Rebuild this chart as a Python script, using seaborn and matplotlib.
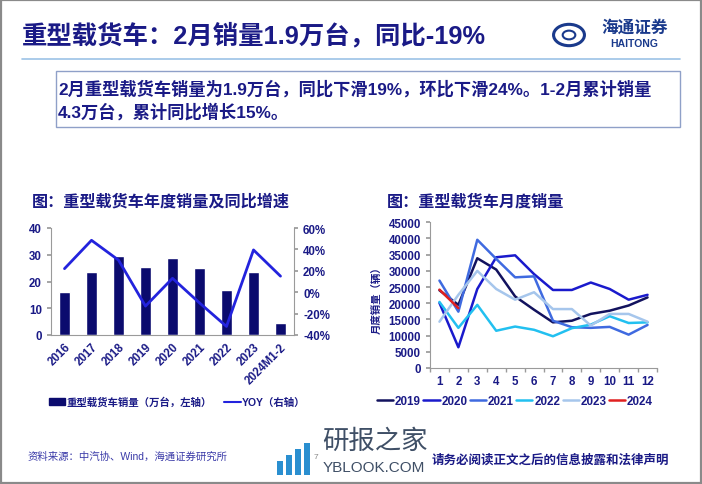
import numpy as np
import pandas as pd
import matplotlib
matplotlib.use("Agg")
import matplotlib.pyplot as plt
from matplotlib.patches import Rectangle, Patch, Circle
from matplotlib.lines import Line2D
import seaborn as sns

# ---------------- data ----------------
years = ["2016", "2017", "2018", "2019", "2020", "2021", "2022", "2023", "2024M1-2"]
annual_sales = [15.9, 23.4, 29.6, 25.3, 28.7, 24.9, 16.8, 23.4, 4.4]      # 万台
annual_yoy = [22, 48.5, 30, -13, 13, -10, -32, 39.5, 15]                   # %

months = list(range(1, 13))
m2019 = [24000, 19500, 33900, 30400, 22100, 18000, 14100, 14600, 16700, 17700, 19300, 21800]
m2020 = [20100, 6400, 24400, 34200, 34800, 29000, 24100, 24100, 26400, 24400, 21100, 22600]
m2021 = [27000, 17400, 39600, 33700, 28000, 28300, 14600, 12600, 12400, 12700, 10300, 13300]
m2022 = [20400, 12400, 19500, 11500, 12800, 11800, 9800, 12300, 13400, 16000, 13900, 14100]
m2023 = [14300, 22600, 30000, 24400, 21100, 23400, 18200, 18200, 13100, 16700, 16700, 14300]
m2024 = [24200, 18500]
series_names = ["2019", "2020", "2021", "2022", "2023", "2024"]

# ---------------- style ----------------
sns.set_theme(style="white")
plt.rcParams['font.family'] = ['Liberation Sans', 'Noto Sans CJK SC', 'DejaVu Sans']
plt.rcParams['axes.unicode_minus'] = False

NAVY = '#1a1a86'
GRAY = '#9a9a9a'
BAR = '#0b0b6e'
YOY = '#2323dd'
pal = {"2019": '#12125e', "2020": '#1a1acc', "2021": '#3f6ae0',
       "2022": '#22c0f0', "2023": '#a6c6ec', "2024": '#e02020'}

W, H = 702, 485
fig = plt.figure(figsize=(W / 100, H / 100), dpi=100)
fig.patch.set_facecolor('white')

def fx(px):
    return px / W

def fy(py):
    return 1 - py / H

# page border
fig.add_artist(Rectangle((0.001, 0.002), 0.997, 0.995, transform=fig.transFigure,
                         fill=False, edgecolor='#8a8a8a', linewidth=1.6))

# title
fig.text(fx(22), fy(35), "重型载货车：2月销量1.9万台，同比-19%", fontsize=18.3,
         fontweight='bold', color=NAVY, va='center', ha='left')
# line under title
fig.add_artist(Line2D([fx(22), fx(680)], [fy(60), fy(60)], transform=fig.transFigure,
                      color='#9cc2e6', linewidth=1.2))

# logo
fig.add_artist(Circle((fx(569), fy(36)), 0.022, transform=fig.transFigure, fill=False,
                      edgecolor='#1a3a8c', linewidth=2.2))
fig.add_artist(Circle((fx(569), fy(36)), 0.009, transform=fig.transFigure, fill=False,
                      edgecolor='#1a3a8c', linewidth=1.5))
fig.text(fx(635), fy(28), "海通证券", fontsize=12, color='#1a3a8c', ha='center',
         va='center', style='italic', fontweight='bold')
fig.text(fx(634), fy(44), "HAITONG", fontsize=7.5, color='#1a3a8c', ha='center',
         va='center', fontweight='bold')

# text box
fig.add_artist(Rectangle((fx(56), fy(128)), fx(680) - fx(56), fy(72) - fy(128),
                         transform=fig.transFigure, fill=False, edgecolor='#8fa0c8',
                         linewidth=1.0))
fig.text(fx(58), fy(89), "2月重型载货车销量为1.9万台，同比下滑19%，环比下滑24%。1-2月累计销量",
         fontsize=12.4, fontweight='bold', color=NAVY, va='center', ha='left')
fig.text(fx(58), fy(112), "4.3万台，累计同比增长15%。",
         fontsize=12.4, fontweight='bold', color=NAVY, va='center', ha='left')

# ---------------- left chart ----------------
fig.text(fx(32), fy(202), "图：重型载货车年度销量及同比增速", fontsize=11.6,
         color=NAVY, va='center', ha='left', fontweight='bold')

ax = fig.add_axes([fx(51), fy(336), fx(294) - fx(51), fy(229) - fy(336)])
sns.barplot(x=years, y=annual_sales, color=BAR, width=0.42, ax=ax, saturation=1)
ax.set_ylim(0, 40)
ax.set_yticks([0, 10, 20, 30, 40])
ax.set_xlim(-0.5, len(years) - 0.5)
ax.set_xticks(range(len(years)))
ax.set_xticklabels(years, rotation=45, ha='right', rotation_mode='anchor')
ax.set_xticks(np.arange(-0.5, len(years), 1.0), minor=True)
ax.tick_params(axis='x', which='major', length=0, pad=4, labelsize=8.3, labelcolor=NAVY)
ax.tick_params(axis='x', which='minor', length=3, color=GRAY, direction='out')
ax.tick_params(axis='y', length=3, color=GRAY, labelsize=8.3, labelcolor=NAVY, left=True)
for lab in ax.get_xticklabels() + ax.get_yticklabels():
    lab.set_fontweight('bold')
for s in ['top', 'right']:
    ax.spines[s].set_visible(False)
for s in ['left', 'bottom']:
    ax.spines[s].set_color(GRAY)
    ax.spines[s].set_linewidth(0.8)
ax.set_xlabel("")
ax.set_ylabel("")
ax.grid(False)

ax2 = ax.twinx()
sns.lineplot(x=np.arange(len(years)), y=annual_yoy, color=YOY, linewidth=2.0, ax=ax2)
ax2.set_ylim(-40, 60)
ax2.set_yticks([-40, -20, 0, 20, 40, 60])
ax2.set_yticklabels([f"{v}%" for v in [-40, -20, 0, 20, 40, 60]])
ax2.tick_params(axis='y', length=3, color=GRAY, labelsize=8.3, labelcolor=NAVY, right=True)
for lab in ax2.get_yticklabels():
    lab.set_fontweight('bold')
for s in ['top', 'left', 'bottom']:
    ax2.spines[s].set_visible(False)
ax2.spines['right'].set_color(GRAY)
ax2.spines['right'].set_linewidth(0.8)
ax2.set_ylabel("")
ax2.grid(False)

h1 = [Patch(facecolor=BAR, edgecolor=BAR), Line2D([0], [0], color=YOY, linewidth=1.5)]
fig.legend(h1, ["重型载货车销量（万台，左轴）", "YOY（右轴）"], loc='center',
           bbox_to_anchor=(fx(177), fy(403)), ncol=2, frameon=False,
           prop={'size': 7.5, 'weight': 'bold'}, labelcolor=NAVY,
           handlelength=1.6, handleheight=0.6, handletextpad=0.1, columnspacing=1.2)

# ---------------- right chart ----------------
fig.text(fx(387), fy(202), "图：重型载货车月度销量", fontsize=11.6, color=NAVY,
         va='center', ha='left', fontweight='bold')

rows = []
for name, vals in zip(series_names, [m2019, m2020, m2021, m2022, m2023, m2024]):
    for m, v in zip(months, vals):
        rows.append({"month": m, "sales": v, "year": name})
df = pd.DataFrame(rows)

bx = fig.add_axes([fx(430), fy(369), fx(657) - fx(430), fy(223.3) - fy(369)])
sns.lineplot(data=df, x="month", y="sales", hue="year", palette=pal,
             hue_order=series_names, linewidth=1.8, ax=bx, legend=False)
bx.set_ylim(0, 45000)
bx.set_yticks(range(0, 45001, 5000))
bx.set_xlim(0.5, 12.5)
bx.set_xticks(months)
bx.set_xticks(np.arange(0.5, 12.6, 1.0), minor=True)
bx.tick_params(axis='x', which='major', length=0, pad=5, labelsize=8.3, labelcolor=NAVY)
bx.tick_params(axis='x', which='minor', length=3, color=GRAY, direction='out', bottom=True)
bx.tick_params(axis='y', length=3, color=GRAY, labelsize=8.3, labelcolor=NAVY, left=True)
for lab in bx.get_xticklabels() + bx.get_yticklabels():
    lab.set_fontweight('bold')
for s in ['top', 'right']:
    bx.spines[s].set_visible(False)
for s in ['left', 'bottom']:
    bx.spines[s].set_color(GRAY)
    bx.spines[s].set_linewidth(0.8)
bx.set_xlabel("")
bx.set_ylabel("")
bx.grid(False)

fig.text(fx(377), fy(298), "月度销量（辆）", rotation=90, fontsize=7.5, color=NAVY,
         fontweight='bold', va='center', ha='center')

h2 = [Line2D([0], [0], color=pal[n], linewidth=1.8) for n in series_names]
fig.legend(h2, series_names, loc='center', bbox_to_anchor=(fx(515), fy(402)),
           ncol=6, frameon=False, prop={'size': 8.4, 'weight': 'bold'},
           labelcolor=NAVY, handlelength=1.4, handletextpad=0.15, columnspacing=0.2)

# ---------------- footer ----------------
fig.text(fx(28), fy(457), "资料来源：中汽协、Wind，海通证券研究所", fontsize=7.5,
         color='#3a3aa8', va='center', ha='left')
fig.text(fx(316), fy(458), "7", fontsize=6, color='#888888', va='center', ha='center')
fig.text(fx(322), fy(442), "研报之家", fontsize=19, color='#3f4f66', va='center', ha='left')
fig.text(fx(323), fy(468), "YBLOOK.COM", fontsize=11, color='#3f4f66', va='center', ha='left')
for i, hgt in enumerate([14, 20, 26, 32]):
    fig.add_artist(Rectangle((fx(277 + i * 9), fy(476)), fx(6), fy(476 - hgt) - fy(476),
                             transform=fig.transFigure, facecolor='#2a8fd0', edgecolor='none'))
fig.text(fx(432), fy(461), "请务必阅读正文之后的信息披露和法律声明", fontsize=9,
         fontweight='bold', color=NAVY, va='center', ha='left')

fig.savefig("out.png", dpi=100, facecolor='white')
